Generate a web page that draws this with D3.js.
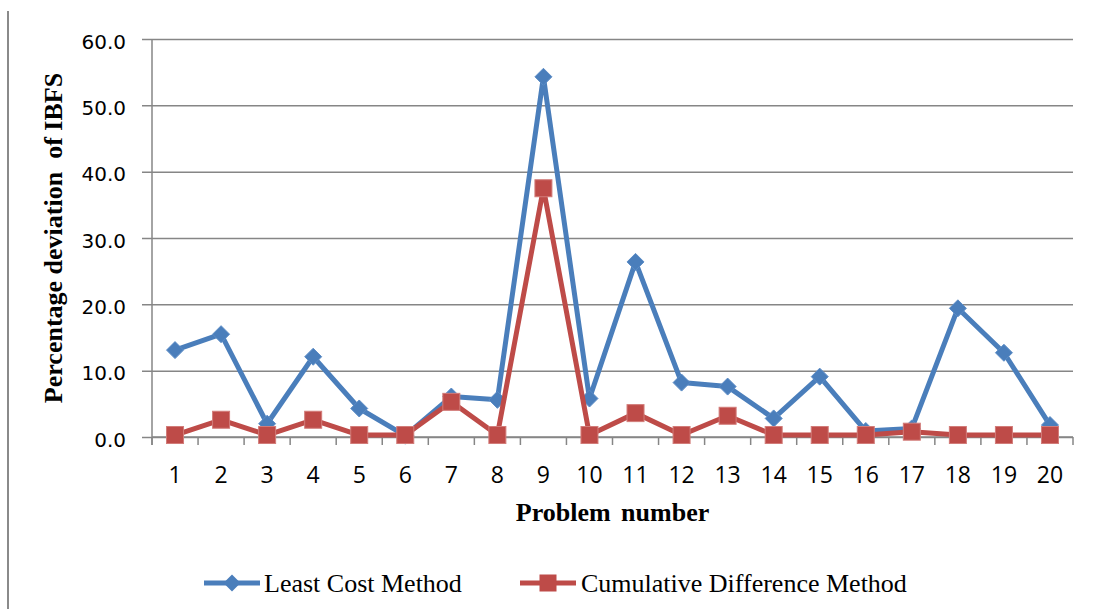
<!DOCTYPE html>
<html>
<head>
<meta charset="utf-8">
<script src="https://cdn.jsdelivr.net/npm/d3@7"></script>
<style>
  html, body { margin: 0; padding: 0; background: #ffffff; }
  svg { display: block; }
</style>
</head>
<body>
<svg id="chart" width="1100" height="609"></svg>
<script>
// Problem numbers along the horizontal axis
const problems = [1, 2, 3, 4, 5, 6, 7, 8, 9, 10, 11, 12, 13, 14, 15, 16, 17, 18, 19, 20];

// Percentage deviation of the initial basic feasible solution, per method
const leastCost = [13.1, 15.5, 2.0, 12.1, 4.3, 0.2, 6.1, 5.6, 54.3, 5.8, 26.4, 8.2, 7.6, 2.8, 9.1, 0.9, 1.3, 19.4, 12.7, 1.8];
const cumulativeDiff = [0.3, 2.6, 0.3, 2.6, 0.3, 0.3, 5.3, 0.3, 37.5, 0.3, 3.6, 0.3, 3.2, 0.3, 0.3, 0.3, 0.8, 0.3, 0.3, 0.3];

// Value axis ticks
const yTicks = [0, 10, 20, 30, 40, 50, 60];

const seriesNames = ["Least Cost Method", "Cumulative Difference Method"];

const svg = d3.select("#chart");
const plot = { left: 152, right: 1073, top: 39, bottom: 437 };

const x = d3.scaleBand().domain(problems).range([plot.left, plot.right]).padding(0);
const y = d3.scaleLinear().domain([0, 60]).range([plot.bottom, plot.top]);

const gridColor = "#868686";
const blue = "#4A7EBB";
const red = "#BE4B48";

svg.append("rect").attr("width", 1100).attr("height", 609).attr("fill", "#ffffff");

// Thin frame line at the left edge
svg.append("line")
  .attr("x1", 8).attr("x2", 8).attr("y1", 11).attr("y2", 609)
  .attr("stroke", "#8a8a8a").attr("stroke-width", 2);

// Horizontal gridlines and value labels
const yAxis = d3.axisLeft(y)
  .tickValues(yTicks)
  .tickFormat(d3.format(".1f"))
  .tickSizeInner(-(plot.right - plot.left))
  .tickSizeOuter(0)
  .tickPadding(26);

const gy = svg.append("g")
  .attr("transform", `translate(${plot.left},0)`)
  .call(yAxis);
gy.select(".domain").remove();
gy.selectAll(".tick line")
  .attr("stroke", gridColor).attr("stroke-width", 1.5)
  .attr("x1", -10);
gy.selectAll(".tick text")
  .attr("font-family", "'DejaVu Sans', sans-serif")
  .attr("font-size", 20)
  .attr("fill", "#000")
  .attr("dy", "0.45em");

// Vertical axis line
svg.append("line")
  .attr("x1", plot.left).attr("x2", plot.left)
  .attr("y1", plot.top).attr("y2", plot.bottom + 8)
  .attr("stroke", gridColor).attr("stroke-width", 1.5);

// Category axis: baseline, boundary ticks and labels
svg.append("line")
  .attr("x1", plot.left).attr("x2", plot.right)
  .attr("y1", plot.bottom).attr("y2", plot.bottom)
  .attr("stroke", gridColor).attr("stroke-width", 1.5);

const boundaries = problems.map(p => x(p)).concat([x(problems[problems.length - 1]) + x.bandwidth()]);
svg.append("g").selectAll("line")
  .data(boundaries)
  .join("line")
  .attr("x1", d => d).attr("x2", d => d)
  .attr("y1", plot.bottom).attr("y2", plot.bottom + 8)
  .attr("stroke", gridColor).attr("stroke-width", 1.5);

svg.append("g").selectAll("text")
  .data(problems)
  .join("text")
  .attr("x", d => x(d) + x.bandwidth() / 2)
  .attr("y", plot.bottom + 46)
  .attr("text-anchor", "middle")
  .attr("font-family", "'Open Sans', sans-serif")
  .attr("font-size", 23)
  .attr("fill", "#000")
  .text(d => d);

// Axis titles
svg.append("text")
  .attr("x", (plot.left + plot.right) / 2)
  .attr("y", 521)
  .attr("text-anchor", "middle")
  .attr("font-family", "'Liberation Serif', 'Times New Roman', serif")
  .attr("font-weight", "bold")
  .attr("font-size", 26)
  .attr("word-spacing", 4)
  .attr("fill", "#000")
  .text("Problem number");

svg.append("text")
  .attr("transform", "translate(62,238) rotate(-90)")
  .attr("text-anchor", "middle")
  .attr("font-family", "'Liberation Serif', 'Times New Roman', serif")
  .attr("font-weight", "bold")
  .attr("font-size", 26)
  .attr("fill", "#000")
  .style("white-space", "pre")
  .text("Percentage deviation  of IBFS");

// Marker shapes
const diamondPath = (s) => `M0,${-s}L${s},0L0,${s}L${-s},0Z`;
const squareSize = 17;

const cx = (d, i) => x(problems[i]) + x.bandwidth() / 2;
const line = d3.line().x((d, i) => cx(d, i)).y(d => y(d));

// Least Cost Method series
svg.append("path")
  .datum(leastCost)
  .attr("d", line)
  .attr("fill", "none")
  .attr("stroke", blue)
  .attr("stroke-width", 5)
  .attr("stroke-linejoin", "round");

svg.append("g").selectAll("path")
  .data(leastCost)
  .join("path")
  .attr("transform", (d, i) => `translate(${cx(d, i)},${y(d)})`)
  .attr("d", diamondPath(8.5))
  .attr("fill", blue)
  .attr("stroke", "#5b8cc6")
  .attr("stroke-width", 1);

// Cumulative Difference Method series
svg.append("path")
  .datum(cumulativeDiff)
  .attr("d", line)
  .attr("fill", "none")
  .attr("stroke", red)
  .attr("stroke-width", 5)
  .attr("stroke-linejoin", "round");

svg.append("g").selectAll("rect")
  .data(cumulativeDiff)
  .join("rect")
  .attr("x", (d, i) => cx(d, i) - squareSize / 2)
  .attr("y", d => y(d) - squareSize / 2)
  .attr("width", squareSize)
  .attr("height", squareSize)
  .attr("fill", red)
  .attr("stroke", "#d27c79")
  .attr("stroke-width", 1);

// Legend
const legendY = 583;
const legendItems = [
  { name: seriesNames[0], color: blue, x0: 204, shape: "diamond", textX: 264 },
  { name: seriesNames[1], color: red, x0: 520, shape: "square", textX: 581 }
];
const lg = svg.append("g").selectAll("g").data(legendItems).join("g");
lg.append("line")
  .attr("x1", d => d.x0).attr("x2", d => d.x0 + 56)
  .attr("y1", legendY).attr("y2", legendY)
  .attr("stroke", d => d.color).attr("stroke-width", 5);
lg.filter(d => d.shape === "diamond").append("path")
  .attr("transform", d => `translate(${d.x0 + 28},${legendY})`)
  .attr("d", diamondPath(8.5))
  .attr("fill", d => d.color);
lg.filter(d => d.shape === "square").append("rect")
  .attr("x", d => d.x0 + 28 - squareSize / 2)
  .attr("y", legendY - squareSize / 2)
  .attr("width", squareSize).attr("height", squareSize)
  .attr("fill", d => d.color);
lg.append("text")
  .attr("x", d => d.textX)
  .attr("y", 592)
  .attr("font-family", "'Liberation Serif', 'Times New Roman', serif")
  .attr("font-size", 26)
  .attr("fill", "#000")
  .text(d => d.name);
</script>
</body>
</html>
